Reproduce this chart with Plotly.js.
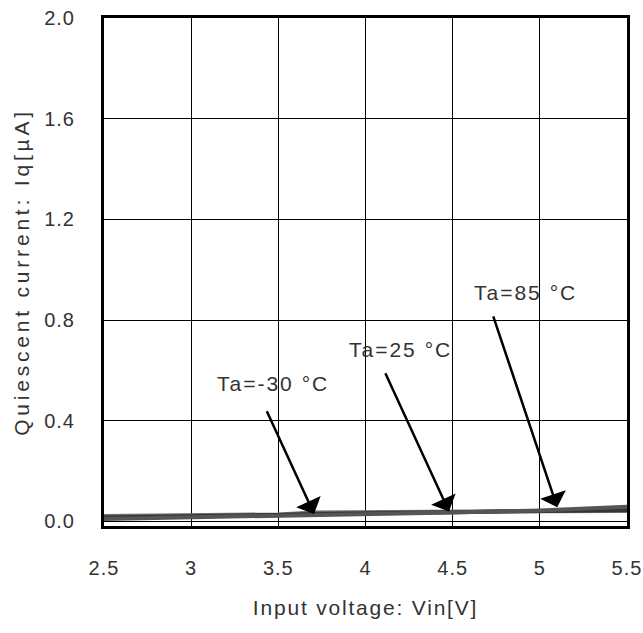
<!DOCTYPE html>
<html>
<head>
<meta charset="utf-8">
<script src="https://cdn.plot.ly/plotly-3.0.1.min.js"></script>
<style>
html,body{margin:0;padding:0;background:#fff;}
#chart{width:643px;height:633px;}
#chart text.xtitle{letter-spacing:1.8px;}
#chart text.ytitle{letter-spacing:3.8px;}
#chart text.annotation-text{letter-spacing:2px;}
#chart .xtick text, #chart .ytick text{letter-spacing:1px;}
</style>
</head>
<body>
<div id="chart"></div>
<script>
// Input voltage Vin [V]
var vin = [2.5, 3.0, 3.5, 3.7, 4.0, 4.5, 5.0, 5.5];
// Quiescent current Iq [uA] per temperature
var iqM30 = [0.022, 0.024, 0.028, 0.036, 0.038, 0.040, 0.041, 0.042];
var iq25  = [0.016, 0.020, 0.026, 0.030, 0.033, 0.038, 0.042, 0.046];
var iq85  = [0.010, 0.016, 0.022, 0.026, 0.030, 0.036, 0.044, 0.058];
var seriesNames = ['Ta=-30 °C', 'Ta=25 °C', 'Ta=85 °C'];
var xTicks = [2.5, 3, 3.5, 4, 4.5, 5, 5.5];
var xTickText = ['2.5', '3', '3.5', '4', '4.5', '5', '5.5'];
var yTicks = [0, 0.4, 0.8, 1.2, 1.6, 2.0];
var yTickText = ['0.0', '0.4', '0.8', '1.2', '1.6', '2.0'];
// label positions and arrow (tail -> head) in data units
var labelX = [3.47, 4.20, 4.92];
var labelY = [0.548, 0.683, 0.909];
var tailX = [3.43, 4.11, 4.73];
var tailY = [0.444, 0.595, 0.821];
var headX = [3.705, 4.479, 5.10];
var headY = [0.030, 0.040, 0.056];

var font = 'Liberation Sans, Arial, sans-serif';
var txt = '#333';
var colors = ['#707070', '#353535', '#555555'];
var ys = [iqM30, iq25, iq85];
var data = ys.map(function (y, i) {
  return {x: vin, y: y, type: 'scatter', mode: 'lines', name: seriesNames[i],
          line: {color: colors[i], width: 4}, showlegend: false};
});

var annotations = [];
for (var i = 0; i < 3; i++) {
  annotations.push({x: labelX[i], y: labelY[i], xref: 'x', yref: 'y', text: seriesNames[i],
    showarrow: false, font: {family: font, size: 21, color: txt}});
  annotations.push({x: headX[i], y: headY[i], ax: tailX[i], ay: tailY[i], xref: 'x', yref: 'y',
    axref: 'x', ayref: 'y', text: '', showarrow: true, arrowhead: 1, arrowsize: 1.8,
    arrowwidth: 2.5, arrowcolor: '#000', standoff: 0, startstandoff: 0});
}

var layout = {
  width: 643, height: 633,
  margin: {l: 104, r: 16, t: 18, b: 107},
  paper_bgcolor: '#fff', plot_bgcolor: '#fff',
  font: {family: font, size: 20, color: txt},
  xaxis: {range: [2.5, 5.5], tickvals: xTicks, ticktext: xTickText,
    showgrid: true, gridcolor: '#000', gridwidth: 1, zeroline: false,
    showline: true, linecolor: '#000', linewidth: 3, mirror: true,
    ticks: '', ticklabelstandoff: 22, tickfont: {family: font, size: 20, color: txt},
    title: {text: 'Input voltage: Vin[V]', standoff: 23, font: {family: font, size: 21, color: txt}}},
  yaxis: {range: [-0.018, 2.0], tickvals: yTicks, ticktext: yTickText,
    showgrid: true, gridcolor: '#000', gridwidth: 1, zeroline: false,
    showline: true, linecolor: '#000', linewidth: 3, mirror: true,
    ticks: '', ticklabelstandoff: 22, tickfont: {family: font, size: 20, color: txt},
    title: {text: 'Quiescent current: Iq[µA]', standoff: 12, font: {family: font, size: 21, color: txt}}},
  annotations: annotations
};
Plotly.newPlot('chart', data, layout, {displayModeBar: false, staticPlot: true});
</script>
</body>
</html>
